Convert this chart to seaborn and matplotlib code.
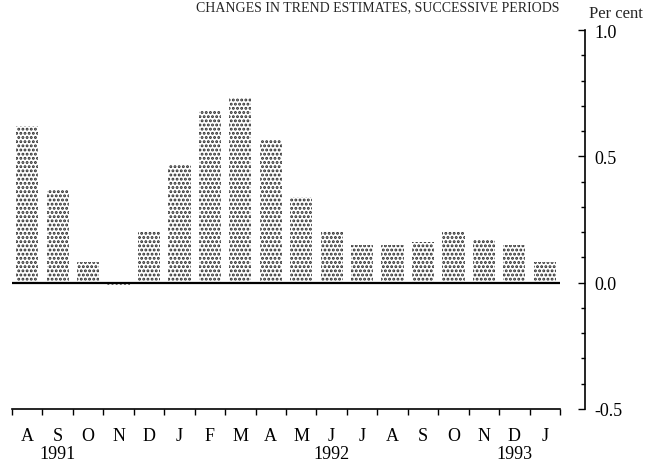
"""
Changes in trend estimates, successive periods
"""

import pandas as pd
import seaborn as sns
from matplotlib import pyplot as plt
from matplotlib.ticker import MultipleLocator, FixedLocator

# Data (per cent)
periods = ['1991-08', '1991-09', '1991-10', '1991-11', '1991-12',
           '1992-01', '1992-02', '1992-03', '1992-04', '1992-05', '1992-06',
           '1992-07', '1992-08', '1992-09', '1992-10', '1992-11', '1992-12',
           '1993-01']
month_letters = ['A', 'S', 'O', 'N', 'D', 'J', 'F', 'M', 'A', 'M', 'J',
                 'J', 'A', 'S', 'O', 'N', 'D', 'J']
year_labels = {1: '1991', 10: '1992', 16: '1993'}
changes = [0.62, 0.37, 0.08, -0.01, 0.20, 0.47, 0.68, 0.73, 0.57, 0.34,
           0.20, 0.15, 0.15, 0.16, 0.20, 0.17, 0.15, 0.08]

df = pd.DataFrame({'period': periods, 'change': changes})

sns.set_style('white')
plt.rcParams['font.family'] = ['Liberation Serif', 'DejaVu Serif']
plt.rcParams['hatch.linewidth'] = 1.4

fig = plt.figure(figsize=(6.49, 4.64), dpi=100)
ax = fig.add_axes([12 / 649, 54 / 464, (560 - 12) / 649, (410 - 31) / 464])

sns.barplot(data=df, x='period', y='change', ax=ax, width=0.73,
            color='white', saturation=1, edgecolor='#2a2a2a', linewidth=0,
            hatch='....')

ax.axhline(0, color='black', lw=1.6, zorder=5)
ax.set_xlim(-0.5, len(periods) - 0.5)
ax.set_ylim(-0.5, 1.0)
ax.set_xlabel('')
ax.set_ylabel('')

# x axis: letters at bar centres, ticks at the month boundaries
labels = [m + '\n' + year_labels.get(i, '') for i, m in enumerate(month_letters)]
ax.set_xticks(range(len(periods)))
ax.set_xticklabels(labels, linespacing=1.1)
ax.xaxis.set_minor_locator(FixedLocator([i - 0.5 for i in range(len(periods) + 1)]))
ax.tick_params(axis='x', which='major', length=0, pad=13, labelsize=13,
               labelcolor='black')
ax.tick_params(axis='x', which='minor', direction='out', length=4, width=1,
               color='black', bottom=True)

# y axis on the right, detached from the bars
ax.yaxis.tick_right()
ax.set_yticks([-0.5, 0.0, 0.5, 1.0])
ax.set_yticklabels(['-0.5', '0.0', '0.5', '1.0'])
ax.yaxis.set_minor_locator(MultipleLocator(0.1))
ax.tick_params(axis='y', which='major', direction='in', length=5, width=1,
               color='black', right=True, pad=7, labelsize=13,
               labelcolor='black')
ax.tick_params(axis='y', which='minor', direction='in', length=3, width=1,
               color='black', right=True)

for side in ['top', 'left']:
    ax.spines[side].set_visible(False)
ax.spines['right'].set_position(('outward', 18))
ax.spines['right'].set_bounds(-0.5, 1.0)
ax.spines['right'].set_color('black')
ax.spines['right'].set_linewidth(1.2)
ax.spines['bottom'].set_color('black')
ax.spines['bottom'].set_linewidth(1.2)

fig.text(643 / 649, 1 - 14 / 464, 'Per cent', ha='right', va='center', fontsize=12)
fig.text(560 / 649, 1 - 1 / 464, 'CHANGES IN TREND ESTIMATES, SUCCESSIVE PERIODS',
         ha='right', va='top', fontsize=10)

fig.savefig('out.png', dpi=100)
